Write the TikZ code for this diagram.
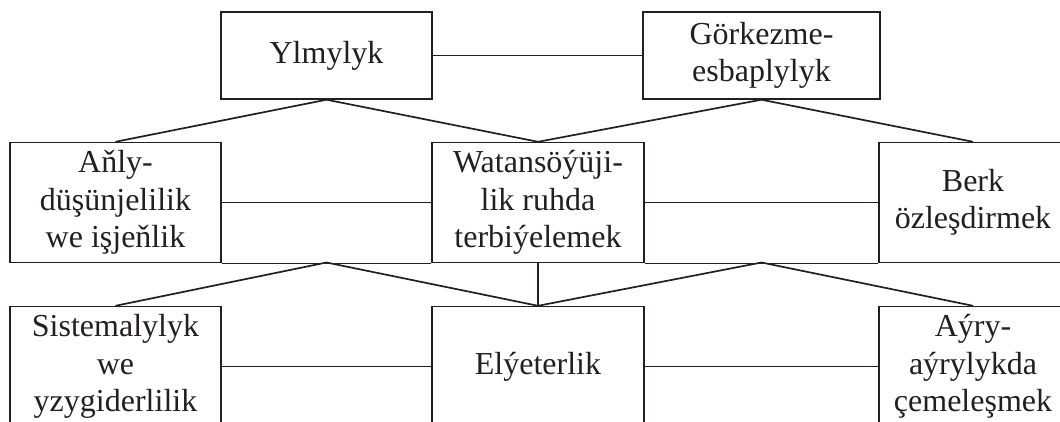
\documentclass[tikz,border=0pt]{standalone}
\usepackage{fontspec}
\setmainfont{Liberation Serif}
\definecolor{ink}{HTML}{231F20}
\begin{document}
\begin{tikzpicture}[
        x=1pt, y=-1pt,
        box/.style={
            draw=ink,
            line width=1.4pt,
            rectangle,
            inner sep=0pt,
            minimum width=211pt,
            minimum height=120pt,
            align=center,
            text=ink,
            font=\fontsize{32}{37.5}\selectfont
        },
        link/.style={draw=ink, line width=1.4pt},
        branch/.style={draw=ink, line width=1.7pt}
    ]
        \useasboundingbox (0,0) rectangle (1060,422);

        % Top row
        \node[box, minimum height=87pt] (ylm) at (326.5,55.5) {Ylmylyk};
        \node[box, minimum height=87pt, minimum width=237pt] (gor) at (761.5,55.5) {Görkezme-\\esbaplylyk};

        % Middle row
        \node[box] (anly) at (115.5,202.5) {Aňly-\\düşünjelilik\\we işjeňlik};
        \node[box, minimum width=212pt] (watan) at (538,202.5) {Watansöýüji-\\lik ruhda\\terbiýelemek};
        \node[box, minimum width=188pt] (berk) at (973,202.5) {Berk\\özleşdirmek};

        % Bottom row
        \node[box] (sist) at (115.5,366.5) {Sistemalylyk\\we\\yzygiderlilik};
        \node[box, minimum width=212pt] (ely) at (538,366.5) {Elýeterlik};
        \node[box, minimum width=188pt] (ayry) at (973,366.5) {Aýry-\\aýrylykda\\çemeleşmek};

        % Junction points under the middle row
        \coordinate (lj) at (326.5,262.5);
        \coordinate (rj) at (761.5,262.5);

        % Horizontal links
        \draw[link] (ylm.east) -- (gor.west);
        \draw[link] (anly.east) -- (watan.west);
        \draw[link] (watan.east) -- (berk.west);
        \draw[link] (sist.east) -- (ely.west);
        \draw[link] (ely.east) -- (ayry.west);
        \draw[draw=ink, line width=1pt] (anly.south east) -- (watan.south west);
        \draw[draw=ink, line width=1pt] (watan.south east) -- (berk.south west);

        % Branches from the top row
        \draw[branch] (anly.north) -- (ylm.south) -- (watan.north);
        \draw[branch] (watan.north) -- (gor.south) -- (berk.north);

        % Branches to the bottom row
        \draw[branch] (sist.north) -- (lj) -- (ely.north);
        \draw[branch] (ely.north) -- (rj) -- (ayry.north);
        \draw[link] (watan.south) -- (ely.north);

    \end{tikzpicture}
\end{document}
